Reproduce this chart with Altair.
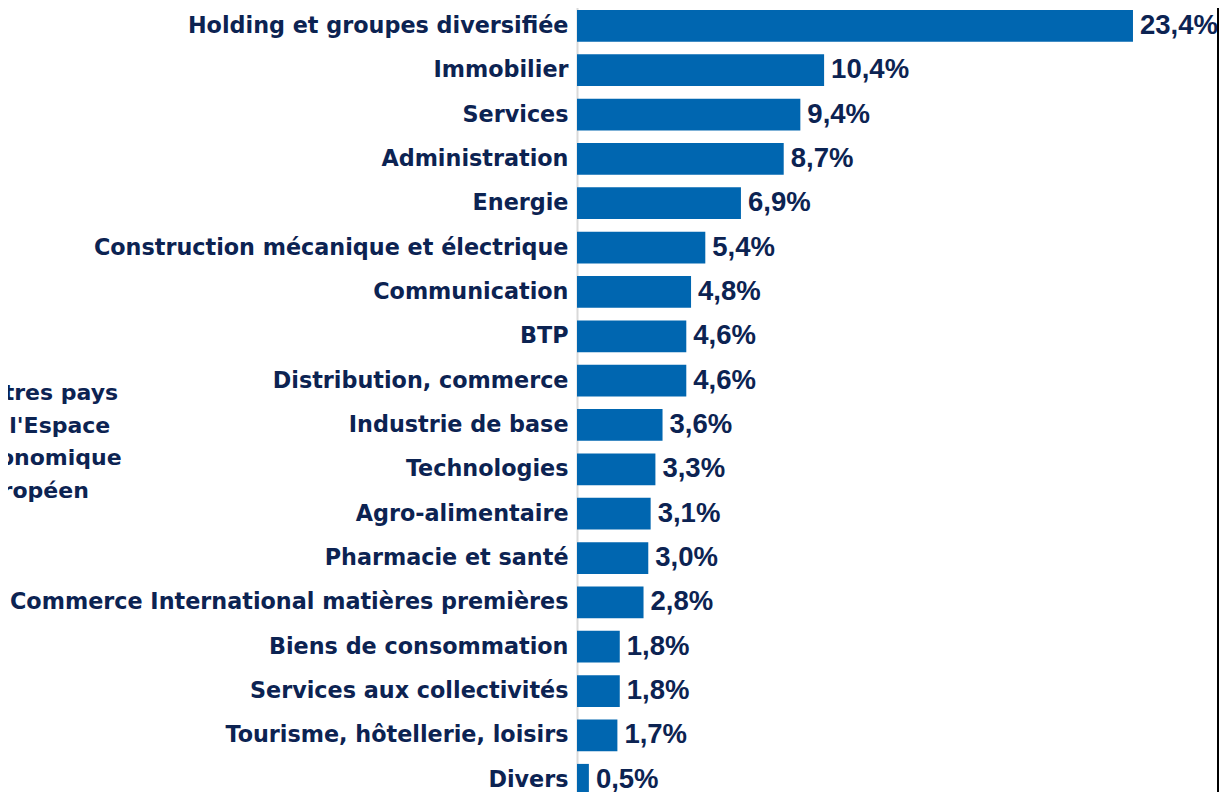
import altair as alt
import pandas as pd

categories = [
    "Holding et groupes diversifiée",
    "Immobilier",
    "Services",
    "Administration",
    "Energie",
    "Construction mécanique et électrique",
    "Communication",
    "BTP",
    "Distribution, commerce",
    "Industrie de base",
    "Technologies",
    "Agro-alimentaire",
    "Pharmacie et santé",
    "Commerce International matières premières",
    "Biens de consommation",
    "Services aux collectivités",
    "Tourisme, hôtellerie, loisirs",
    "Divers",
]
values = [23.4, 10.4, 9.4, 8.7, 6.9, 5.4, 4.8, 4.6, 4.6, 3.6, 3.3, 3.1, 3.0, 2.8, 1.8, 1.8, 1.7, 0.5]
labels = [f"{v:.1f}".replace(".", ",") + "%" for v in values]
side_note = ["Autres pays", "de l'Espace", "économique", "européen"]

navy = "#0c2352"
blue = "#0066b0"

df = pd.DataFrame({"cat": categories, "val": values, "lab": labels})

W, H = 642, 788
xscale = alt.Scale(domain=[0, W / 23.76], nice=False, zero=True)
yscale = alt.Scale(range=[0, 797.6], paddingInner=0.284, paddingOuter=0.134)

base = alt.Chart(df).encode(
    y=alt.Y(
        "cat:N",
        sort=None,
        scale=yscale,
        axis=alt.Axis(
            title=None,
            ticks=False,
            domainColor="#d9d9d9",
            domainWidth=2,
            labelFont="DejaVu Sans",
            labelFontSize=22.3,
            labelFontWeight="bold",
            labelColor=navy,
            labelPadding=9,
            labelLimit=0,
        ),
    )
)

bars = base.mark_bar(color=blue).encode(x=alt.X("val:Q", scale=xscale, axis=None))

text = base.mark_text(
    align="left",
    baseline="middle",
    dx=7,
    font="Liberation Sans",
    fontSize=27.5,
    fontWeight="bold",
    color=navy,
).encode(x=alt.X("val:Q", scale=xscale, axis=None), text="lab:N")

one = pd.DataFrame({"a": [0]})
edge = alt.Chart(one).mark_rule(color="black", strokeWidth=2).encode(
    x=alt.value(641), y=alt.value(-12), y2=alt.value(H)
)

note = alt.Chart(one).mark_text(
    align="left",
    baseline="top",
    font="DejaVu Sans",
    fontSize=22,
    fontWeight="bold",
    color=navy,
    lineHeight=32.7,
).encode(x=alt.value(-606), y=alt.value(379), text=alt.value(side_note))

chart = (
    alt.layer(bars, text, edge, note)
    .properties(
        width=W,
        height=H,
        autosize=alt.AutoSizeParams(type="none"),
        padding={"left": 569, "top": -4, "right": 0, "bottom": 0},
    )
    .configure_view(stroke=None)
)

chart.save("out.html", embed_options={"renderer": "svg", "actions": False})
